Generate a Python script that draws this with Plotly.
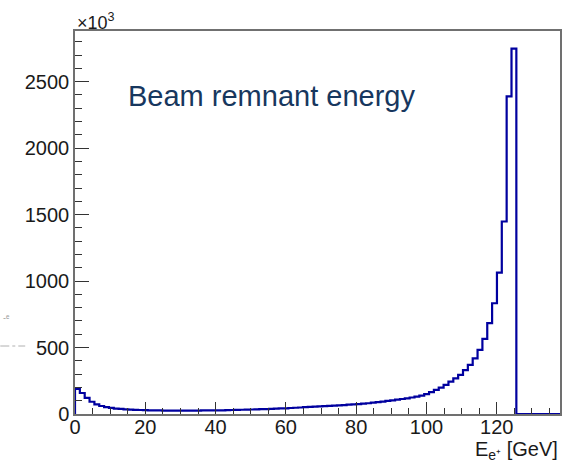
import plotly.graph_objects as go

# Histogram definition (ROOT-style: 100 bins from 0 to 138 GeV)
x_low = 0.0
x_high = 138.0
n_bins = 100

# Bin contents in units of 10^3
counts = [
    188, 158, 122, 92, 72, 60, 52, 46, 41, 38,
    35, 33, 31, 30, 29, 28, 27, 27, 26, 26,
    26, 26, 26, 26, 26, 26, 27, 27, 27, 28,
    28, 29, 30, 31, 32, 33, 34, 35, 36, 37,
    39, 40, 42, 43, 45, 47, 49, 51, 53, 55,
    57, 59, 61, 63, 65, 67, 70, 72, 75, 78,
    81, 85, 89, 93, 98, 103, 108, 113, 118, 124,
    130, 138, 150, 164, 181, 199, 219, 243, 268, 295,
    330, 369, 419, 482, 565, 683, 833, 1064, 1448, 2389,
    2748, 0, 0, 0, 0, 0, 0, 0, 0, 0,
]

x_ticks = [0, 20, 40, 60, 80, 100, 120]
y_ticks = [0, 500, 1000, 1500, 2000, 2500]

title_text = "Beam remnant energy"
x_title = "E<sub>e⁺</sub> [GeV]"
y_multiplier = "×10<sup>3</sup>"

width = (x_high - x_low) / n_bins
edges = [x_low + i * width for i in range(n_bins + 1)]
xs = [x_low] + edges
ys = [0] + counts + [counts[-1]]

W, H = 574, 462
L, R, T, B = 75, 12, 31, 48
pw, ph = W - L - R, H - T - B

def px(xpix):
    return (xpix - L) / pw

def py(ypix):
    return (H - B - ypix) / ph

fig = go.Figure()
fig.add_trace(go.Scatter(
    x=xs, y=ys, mode="lines",
    line=dict(shape="hv", color="#00009f", width=2.2),
    hoverinfo="skip", showlegend=False,
))

tick_font = dict(family="Liberation Sans, Arial, sans-serif", size=20, color="#1a1a1a")

fig.update_layout(
    width=W, height=H,
    margin=dict(l=L, r=R, t=T, b=B, pad=0),
    paper_bgcolor="white", plot_bgcolor="white",
    showlegend=False,
    xaxis=dict(
        range=[x_low, x_high], tickvals=x_ticks,
        ticktext=[str(v) for v in x_ticks],
        ticks="inside", ticklen=12, tickwidth=1, tickcolor="#333",
        minor=dict(dtick=5, tick0=0, ticks="inside", ticklen=6, tickcolor="#333", tickwidth=1),
        showline=True, linecolor="#707070", linewidth=1.5, mirror=True,
        showgrid=False, zeroline=False, tickfont=tick_font,
        ticklabelstandoff=-6,
    ),
    yaxis=dict(
        range=[0, 2881], tickvals=y_ticks,
        ticktext=[str(v) for v in y_ticks],
        ticks="inside", ticklen=14, tickwidth=1, tickcolor="#333",
        minor=dict(dtick=100, tick0=0, ticks="inside", ticklen=7, tickcolor="#333", tickwidth=1),
        showline=True, linecolor="#707070", linewidth=1.5, mirror=True,
        showgrid=False, zeroline=False, tickfont=tick_font,
    ),
)

fig.add_annotation(
    xref="paper", yref="paper", x=px(126), y=py(96),
    xanchor="left", yanchor="middle", showarrow=False,
    text=title_text,
    font=dict(family="Liberation Sans, Arial, sans-serif", size=29, color="#17375e"),
)
fig.add_annotation(
    xref="paper", yref="paper", x=0, y=1,
    xanchor="left", yanchor="bottom", showarrow=False, yshift=-4,
    text=y_multiplier,
    font=dict(family="Liberation Sans, Arial, sans-serif", size=18, color="#1a1a1a"),
)
fig.add_annotation(
    xref="paper", yref="paper", x=1, y=py(450),
    xanchor="right", yanchor="middle", showarrow=False,
    text=x_title,
    font=dict(family="Liberation Sans, Arial, sans-serif", size=20, color="#1a1a1a"),
)

# faint leftovers at the far left of the picture
fig.add_shape(
    type="line", xref="paper", yref="paper",
    x0=px(0), x1=px(25), y0=py(346), y1=py(346),
    line=dict(color="#b0b0b0", width=1, dash="dashdot"),
)
fig.add_annotation(
    xref="paper", yref="paper", x=px(1), y=py(318),
    xanchor="left", yanchor="middle", showarrow=False,
    text="-ᵉ", font=dict(family="Liberation Sans, Arial, sans-serif", size=9, color="#999"),
)

fig.write_html("out.html")
